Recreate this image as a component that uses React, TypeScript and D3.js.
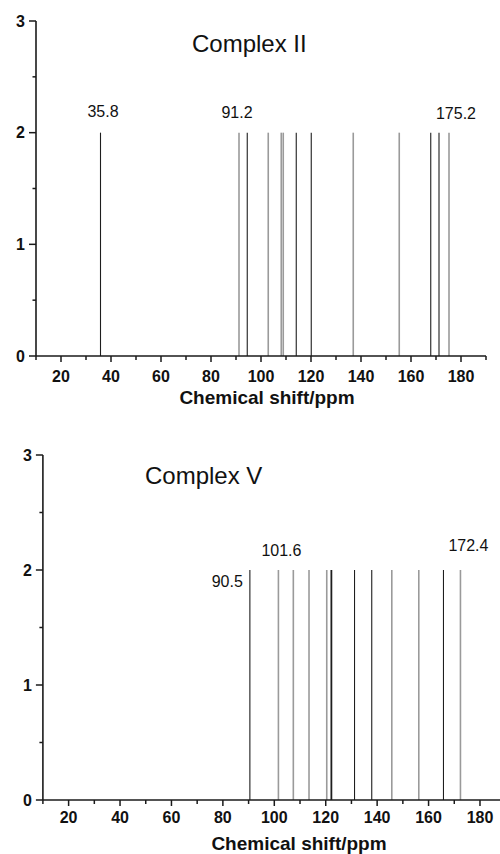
import React from 'react';
import * as d3 from 'd3';

// Complex II peaks (ppm), split by line tone
const complexIIDark = [35.8, 94.5, 114.1, 120.1, 167.9, 171.2];
const complexIILight = [91.2, 102.9, 108.1, 108.9, 136.9, 155.3, 175.2];
const complexIILabels = [35.8, 91.2, 175.2];

// Complex V peaks (ppm)
const complexVDark = [90.5, 122.2, 131.2, 137.9, 165.8];
const complexVLight = [101.6, 107.4, 113.5, 120.4, 145.7, 156.2, 172.4];
const complexVLabels = [90.5, 101.6, 172.4];

const peakHeight = 2;
const xTicks = [20, 40, 60, 80, 100, 120, 140, 160, 180];
const xMinorTicks = [10, 30, 50, 70, 90, 110, 130, 150, 170, 190];
const yTicks = [0, 1, 2, 3];
const yMinorTicks = [0.5, 1.5, 2.5];

const FONT = '"Liberation Sans", Arial, Helvetica, sans-serif';
const AXIS = '#1a1a1a';

type LabelPos = { dx: number; y: number; anchor: string };

type PanelProps = {
  title: string;
  titleX: number;
  titleY: number;
  dark: number[];
  light: number[];
  labels: number[];
  labelPos: Record<number, LabelPos>;
  xRange: [number, number];
  yRange: [number, number];
  tickLabelY: number;
  axisTitleX: number;
  axisTitleY: number;
  yLabelRight: number;
  thick?: number[];
};

function Panel(p: PanelProps) {
  const x = d3.scaleLinear().domain([10, 190]).range(p.xRange);
  const y = d3.scaleLinear().domain([0, 3]).range(p.yRange);
  const y0 = y(0);
  const x0 = x(10);

  return (
    <g>
      <text x={p.titleX} y={p.titleY} fontSize={24} fontFamily={FONT} fill="#111">
        {p.title}
      </text>

      {/* peaks */}
      {p.light.map((v) => (
        <line key={'l' + v} x1={x(v)} x2={x(v)} y1={y(peakHeight)} y2={y0}
          stroke="#9a9a9a" strokeWidth={1.6} />
      ))}
      {p.dark.map((v) => (
        <line key={'d' + v} x1={x(v)} x2={x(v)} y1={y(peakHeight)} y2={y0}
          stroke="#1e1e1e" strokeWidth={(p.thick || []).includes(v) ? 1.8 : 1.1} />
      ))}

      {p.labels.map((v) => {
        const lp = p.labelPos[v];
        return (
          <text key={'t' + v} x={x(v) + lp.dx} y={lp.y} textAnchor={lp.anchor}
            fontSize={16} fontFamily={FONT} fill="#111">
            {v.toFixed(1)}
          </text>
        );
      })}

      {/* y axis */}
      <line x1={x0} x2={x0} y1={y(3)} y2={y0} stroke={AXIS} strokeWidth={1.6} />
      {yTicks.map((t) => (
        <g key={'yt' + t}>
          <line x1={x0 - 7} x2={x0} y1={y(t)} y2={y(t)} stroke={AXIS} strokeWidth={1.5} />
          <text x={p.yLabelRight} y={y(t)} dy="0.36em" textAnchor="end" fontSize={16}
            fontWeight="bold" fontFamily={FONT} fill="#111">
            {t}
          </text>
        </g>
      ))}
      {yMinorTicks.map((t) => (
        <line key={'ym' + t} x1={x0 - 3.5} x2={x0} y1={y(t)} y2={y(t)} stroke={AXIS} strokeWidth={1.5} />
      ))}

      {/* x axis */}
      <line x1={x0} x2={x(190)} y1={y0} y2={y0} stroke={AXIS} strokeWidth={1.6} />
      {xTicks.map((t) => (
        <g key={'xt' + t}>
          <line x1={x(t)} x2={x(t)} y1={y0} y2={y0 + 6} stroke={AXIS} strokeWidth={1.5} />
          <text x={x(t)} y={p.tickLabelY} textAnchor="middle" fontSize={16}
            fontWeight="bold" fontFamily={FONT} fill="#111">
            {t}
          </text>
        </g>
      ))}
      {xMinorTicks.map((t) => (
        <line key={'xm' + t} x1={x(t)} x2={x(t)} y1={y0} y2={y0 + 4} stroke={AXIS} strokeWidth={1.5} />
      ))}
      <text x={p.axisTitleX} y={p.axisTitleY} textAnchor="middle" fontSize={19}
        fontWeight="bold" fontFamily={FONT} fill="#111">
        Chemical shift/ppm
      </text>
    </g>
  );
}

export default function App() {
  return (
    <svg width={500} height={854} style={{ position: 'absolute', left: 0, top: 0, background: '#fff' }}>
      <rect width={500} height={854} fill="#fff" />
      <Panel
        title="Complex II"
        titleX={192}
        titleY={52}
        dark={complexIIDark}
        light={complexIILight}
        labels={complexIILabels}
        labelPos={{
          35.8: { dx: 2.5, y: 117, anchor: 'middle' },
          91.2: { dx: -2, y: 118, anchor: 'middle' },
          175.2: { dx: 7, y: 119, anchor: 'middle' },
        }}
        xRange={[36, 486]}
        yRange={[356, 21]}
        tickLabelY={382}
        axisTitleX={267}
        axisTitleY={404}
        yLabelRight={25}
      />
      <Panel
        title="Complex V"
        titleX={145}
        titleY={484}
        dark={complexVDark}
        light={complexVLight}
        labels={complexVLabels}
        labelPos={{
          90.5: { dx: -7, y: 587, anchor: 'end' },
          101.6: { dx: 3, y: 556, anchor: 'middle' },
          172.4: { dx: 8, y: 551, anchor: 'middle' },
        }}
        xRange={[42.9, 505.7]}
        yRange={[800, 455]}
        tickLabelY={823}
        axisTitleX={299}
        axisTitleY={850}
        yLabelRight={32}
        thick={[122.2]}
      />
    </svg>
  );
}
